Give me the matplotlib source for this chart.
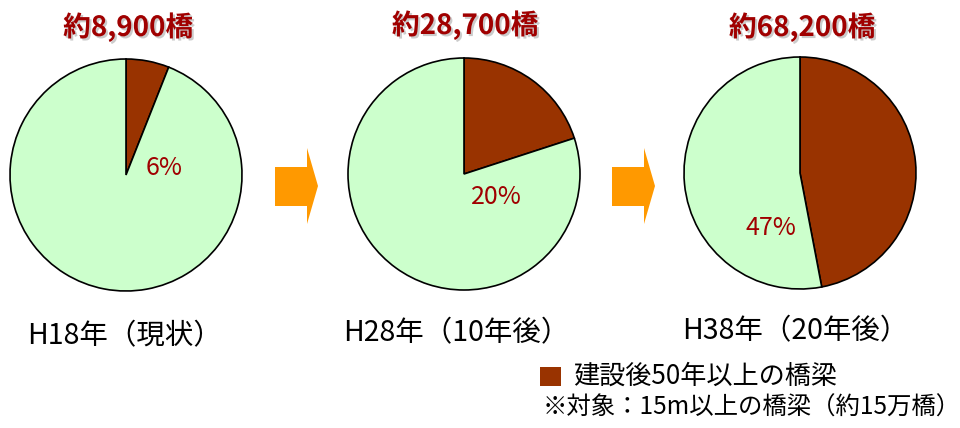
import matplotlib
matplotlib.use('Agg')
import matplotlib.pyplot as plt
import matplotlib.patheffects as pe
from matplotlib.patches import Polygon

plt.rcParams['font.family'] = ['Noto Sans CJK JP', 'DejaVu Sans']

# data
totals = ['約8,900橋', '約28,700橋', '約68,200橋']
old_share = [6, 20, 47]
years = ['H18年（現状）', 'H28年（10年後）', 'H38年（20年後）']
legend_label = '建設後50年以上の橋梁'
note = '※対象：15m以上の橋梁（約15万橋）'

brown = '#993300'
green = '#ccffcc'
red = '#a00000'
H = 428

# layout (pixel positions, top-left origin)
centers = [(126, 175), (464, 174), (800, 173)]
radius = 116
title_pos = [(128, 27), (465, 25), (802, 27)]
pct_pos = [(164, 168), (496, 197), (771, 228)]
year_pos = [(125, 336), (456, 333), (795, 331)]
arrow_x = [275, 612]

fig = plt.figure(figsize=(9.6, 4.28), dpi=100)
ax = fig.add_axes([0, 0, 1, 1])

for i, share in enumerate(old_share):
    cx, cy = centers[i]
    ax.pie([share, 100 - share], colors=[brown, green], startangle=90,
           counterclock=False, center=(cx, H - cy), radius=radius,
           wedgeprops=dict(edgecolor='black', linewidth=1.2))
    tx, ty = title_pos[i]
    ax.text(tx, H - ty, totals[i], ha='center', va='center', fontsize=20,
            fontweight='bold', color=red,
            path_effects=[pe.SimplePatchShadow(offset=(1.5, -1.5), shadow_rgbFace='#999999', alpha=0.5),
                          pe.Normal()])
    px, py = pct_pos[i]
    ax.text(px, H - py, f'{share}%', ha='center', va='center', fontsize=18, color=red)
    yx, yy = year_pos[i]
    ax.text(yx, H - yy, years[i], ha='center', va='center', fontsize=20.5, color='black')

# arrows
for x0 in arrow_x:
    pts = [(x0, H - 167), (x0 + 32, H - 167), (x0 + 32, H - 148), (x0 + 43, H - 186),
           (x0 + 32, H - 224), (x0 + 32, H - 206), (x0, H - 206)]
    ax.add_patch(Polygon(pts, closed=True, facecolor='#ff9900', edgecolor='none'))

# legend
ax.add_patch(Polygon([(540, H - 367), (561, H - 367), (561, H - 386), (540, H - 386)],
                     closed=True, facecolor=brown, edgecolor='none'))
ax.text(573, H - 376, legend_label, ha='left', va='center', fontsize=18.8)
ax.text(543, H - 408, note, ha='left', va='center', fontsize=17.6)

ax.set_xlim(0, 960)
ax.set_ylim(0, H)
ax.set_aspect('auto')
ax.axis('off')

plt.savefig('out.png', dpi=100)
